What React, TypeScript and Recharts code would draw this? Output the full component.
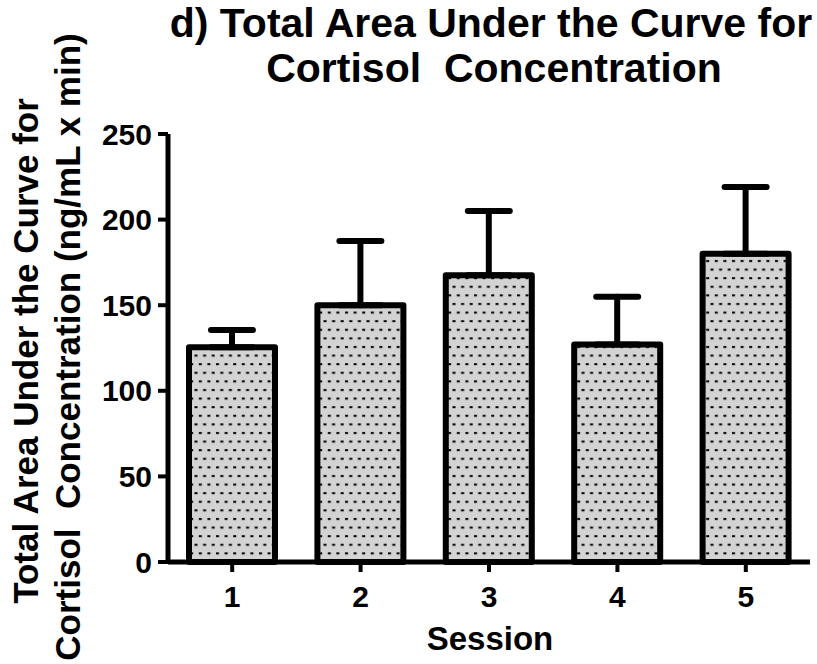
import React from 'react';
import { BarChart, Bar, XAxis, YAxis, ErrorBar } from 'recharts';

const sessions = ['1', '2', '3', '4', '5'];
const meanAuc = [125.5, 150, 167.5, 127, 180];
const upperErr = [10, 37.5, 37.5, 28, 39];
const yTicks = [0, 50, 100, 150, 200, 250];

const data = sessions.map((s, i) => ({
  session: s,
  auc: meanAuc[i],
  err: [0, upperErr[i]],
}));

const FONT = '"Liberation Sans", Arial, Helvetica, sans-serif';

export default function App() {
  const tickStyle = { fill: '#000', fontSize: 30, fontWeight: 'bold', fontFamily: FONT };
  return (
    <div style={{ position: 'absolute', left: 0, top: 0, width: 817, height: 664, background: '#fff' }}>
      <BarChart
        width={817}
        height={664}
        data={data}
        margin={{ top: 134, right: 7, bottom: 0, left: 0 }}
        barCategoryGap={0}
      >
        <defs>
          <pattern id="dots" patternUnits="userSpaceOnUse" width={17.2} height={17.2}>
            <rect x={0} y={0} width={17.2} height={17.2} fill="#d3d3d3" />
            <rect x={1} y={2} width={3} height={2} fill="#000" />
            <rect x={9.6} y={2} width={3} height={2} fill="#000" />
            <rect x={5.3} y={10.6} width={3} height={2} fill="#000" />
            <rect x={13.9} y={10.6} width={3} height={2} fill="#000" />
          </pattern>
        </defs>
        <XAxis
          dataKey="session"
          height={102}
          axisLine={{ stroke: '#000', strokeWidth: 5 }}
          tickLine={{ stroke: '#000', strokeWidth: 4 }}
          tickSize={10}
          tickMargin={14}
          tick={tickStyle}
        />
        <YAxis
          width={168}
          domain={[0, 250]}
          ticks={yTicks}
          interval={0}
          axisLine={{ stroke: '#000', strokeWidth: 5 }}
          tickLine={{ stroke: '#000', strokeWidth: 4 }}
          tickSize={10}
          tickMargin={6}
          tick={tickStyle}
        />
        <Bar
          dataKey="auc"
          barSize={86}
          fill="url(#dots)"
          stroke="#000"
          strokeWidth={6}
          strokeLinejoin="round"
          isAnimationActive={false}
        >
          <ErrorBar
            dataKey="err"
            width={21}
            stroke="#000"
            strokeWidth={6}
            strokeLinecap="round"
            isAnimationActive={false}
          />
        </Bar>
      </BarChart>
      <svg
        width={817}
        height={664}
        style={{ position: 'absolute', left: 0, top: 0, pointerEvents: 'none' }}
      >
        <g fontFamily={FONT} fontWeight="bold" fill="#000">
          <text x={491} y={37} fontSize={41} textAnchor="middle">
            d) Total Area Under the Curve for
          </text>
          <text x={494} y={82} fontSize={41} textAnchor="middle" style={{ whiteSpace: 'pre' }}>
            Cortisol  Concentration
          </text>
          <text x={38} y={351} fontSize={35} textAnchor="middle" transform="rotate(-90 38 351)">
            Total Area Under the Curve for
          </text>
          <text
            x={80}
            y={347}
            fontSize={35}
            textAnchor="middle"
            transform="rotate(-90 80 347)"
            style={{ whiteSpace: 'pre' }}
          >
            Cortisol  Concentration (ng/mL x min)
          </text>
          <text x={490} y={650} fontSize={33} textAnchor="middle">
            Session
          </text>
        </g>
      </svg>
    </div>
  );
}
